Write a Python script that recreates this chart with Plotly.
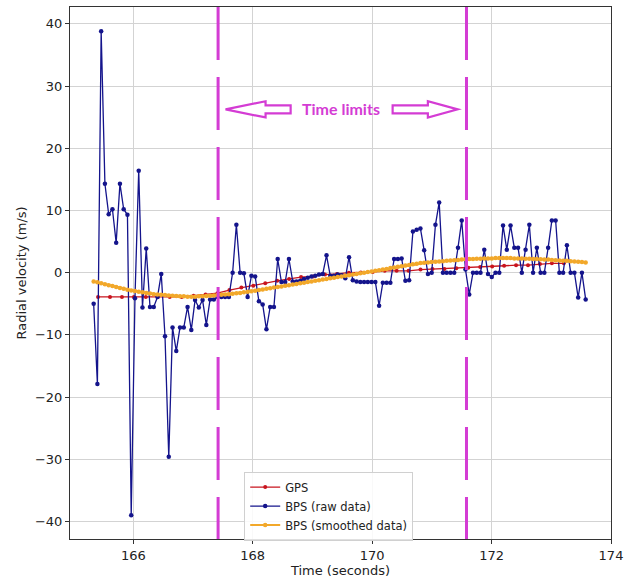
import numpy as np
import plotly.graph_objects as go

# ---------------- data ----------------
raw_t0 = 165.336
raw_dt = 0.0629
bps_raw = [
    -5.0, -17.9, 38.8, 14.3, 9.4, 10.2, 4.8, 14.3, 10.2, 9.3,
    -39.0, -4.1, 16.4, -5.6, 3.9, -5.5, -5.5, -3.9, -0.2, -10.2,
    -29.6, -8.8, -12.6, -8.8, -8.8, -5.5, -9.2, -4.4, -5.6, -4.4,
    -8.4, -4.3, -4.3, -3.9, -3.9, -3.9, -3.9, 0.0, 7.7, 0.0,
    -0.1, -3.9, -0.5, -0.6, -4.6, -5.1, -9.1, -5.5, -5.5, 2.2,
    -1.5, -1.5, 2.2, -1.4, -1.4, -1.3, -1.0, -0.8, -0.6, -0.5,
    -0.3, -0.2, 2.8, -0.5, -0.5, -0.3, -0.4, -0.9, 2.5, -1.2,
    -1.4, -1.5, -1.5, -1.5, -1.5, -1.5, -5.3, -1.6, -1.6, -1.6,
    2.2, 2.2, 2.3, -1.3, -1.2, 6.6, 6.9, 7.1, 3.6, -0.2,
    0.0, 7.7, 11.3, 0.0, 0.0, 0.0, 0.0, 4.0, 8.4, 0.5,
    -3.5, 0.0, 0.0, 0.0, 3.7, -0.2, -0.7, 0.0, 0.0, 7.6,
    3.7, 7.6, 4.0, 4.0, 0.0, 3.7, 7.7, 0.0, 4.0, 0.0,
    0.0, 4.0, 8.4, 8.4, 0.0, 0.0, 4.4, 0.0, 0.0, -4.0,
    0.0, -4.3,
]
bps_smooth = [
    -1.4, -1.55, -1.7, -1.85, -2.0, -2.15, -2.3, -2.45, -2.6, -2.75,
    -2.85, -2.95, -3.05, -3.15, -3.25, -3.35, -3.45, -3.5, -3.55, -3.6,
    -3.65, -3.7, -3.75, -3.8, -3.8, -3.85, -3.85, -3.85, -3.8, -3.8,
    -3.75, -3.7, -3.65, -3.6, -3.55, -3.5, -3.45, -3.4, -3.3, -3.25,
    -3.15, -3.05, -3.0, -2.9, -2.8, -2.7, -2.6, -2.5, -2.4, -2.3,
    -2.2, -2.1, -2.0, -1.9, -1.8, -1.7, -1.6, -1.5, -1.4, -1.3,
    -1.2, -1.1, -1.0, -0.9, -0.8, -0.7, -0.6, -0.5, -0.4, -0.3,
    -0.2, -0.1, 0.0, 0.1, 0.2, 0.3, 0.4, 0.5, 0.6, 0.75,
    0.85, 0.95, 1.05, 1.15, 1.25, 1.35, 1.45, 1.55, 1.6, 1.65,
    1.7, 1.75, 1.8, 1.85, 1.9, 1.95, 2.0, 2.05, 2.1, 2.15,
    2.2, 2.2, 2.25, 2.25, 2.3, 2.3, 2.3, 2.35, 2.35, 2.35,
    2.35, 2.35, 2.3, 2.3, 2.3, 2.25, 2.25, 2.2, 2.2, 2.15,
    2.1, 2.1, 2.05, 2.0, 1.95, 1.9, 1.9, 1.85, 1.8, 1.75,
    1.7, 1.65,
]
gps_t0 = 165.41
gps_dt = 0.2
gps = [
    -3.9, -3.9, -3.9, -3.9, -3.9, -3.9, -3.9, -3.9, -3.7, -3.5,
    -3.3, -2.8, -2.4, -2.1, -1.7, -1.3, -1.0, -0.7, -0.6, -0.3,
    -0.2, 0.0, 0.05, 0.1, 0.3, 0.3, 0.3, 0.5, 0.6, 0.6,
    0.7, 0.8, 0.9, 1.0, 1.1, 1.2, 1.2, 1.4, 1.5, 1.5,
]
time_limits = [167.42, 171.58]
x_ticks = [166, 168, 170, 172, 174]
y_ticks = [-40, -30, -20, -10, 0, 10, 20, 30, 40]

t_raw = raw_t0 + raw_dt * np.arange(len(bps_raw))
t_gps = gps_t0 + gps_dt * np.arange(len(gps))

RED = "#c8141e"
BLUE = "#14148c"
ORANGE = "#f2a82a"
MAGENTA = "#d43cd4"

fig = go.Figure()
fig.add_trace(go.Scatter(x=t_gps, y=gps, mode="lines+markers", name="GPS",
                         line=dict(color=RED, width=1.3),
                         marker=dict(color=RED, size=4)))
fig.add_trace(go.Scatter(x=t_raw, y=bps_raw, mode="lines+markers", name="BPS (raw data)",
                         line=dict(color=BLUE, width=1.3),
                         marker=dict(color=BLUE, size=4.5)))
fig.add_trace(go.Scatter(x=t_raw, y=bps_smooth, mode="lines+markers", name="BPS (smoothed data)",
                         line=dict(color=ORANGE, width=2),
                         marker=dict(color=ORANGE, size=4.5)))

shapes = []
for tl in time_limits:
    shapes.append(dict(type="line", xref="x", yref="paper", x0=tl, x1=tl, y0=1, y1=0,
                       line=dict(color=MAGENTA, width=3, dash="53px,17px")))

# hollow block arrows pointing to the time limits
lo, hi = time_limits
ay = 26.25          # arrow centre height (data units)
hh, sh = 1.3, 0.63  # half-height of head and of shaft
head_len, shaft_len = 0.67, 0.42
tipL = lo + 0.125
tipR = hi - 0.147
pathL = (f"M {tipL},{ay} L {tipL+head_len},{ay+hh} L {tipL+head_len},{ay+sh} "
         f"L {tipL+head_len+shaft_len},{ay+sh} L {tipL+head_len+shaft_len},{ay-sh} "
         f"L {tipL+head_len},{ay-sh} L {tipL+head_len},{ay-hh} Z")
hbR = tipR - 0.5
pathR = (f"M {tipR},{ay} L {hbR},{ay+hh} L {hbR},{ay+sh} "
         f"L {hbR-0.59},{ay+sh} L {hbR-0.59},{ay-sh} "
         f"L {hbR},{ay-sh} L {hbR},{ay-hh} Z")
for p in (pathL, pathR):
    shapes.append(dict(type="path", xref="x", yref="y", path=p,
                       line=dict(color=MAGENTA, width=2.2), fillcolor="white"))

AX_FONT = dict(family="DejaVu Sans", size=13, color="#222")

fig.update_layout(
    width=638, height=582,
    margin=dict(l=70, r=27, t=6, b=34),
    paper_bgcolor="white", plot_bgcolor="white",
    font=AX_FONT,
    shapes=shapes,
    showlegend=True,
    legend=dict(x=0.322, y=-0.003, xanchor="left", yanchor="bottom",
                bgcolor="rgba(255,255,255,0.85)", bordercolor="#d0d0d0", borderwidth=1,
                font=dict(family="DejaVu Sans", size=11.5, color="#222"),
                tracegroupgap=0, itemwidth=30),
    annotations=[dict(x=(lo + hi) / 2 - 0.02, y=ay + 0.2, xref="x", yref="y",
                      text="<b>Time limits</b>", showarrow=False,
                      font=dict(family="Lato", size=16, color=MAGENTA))],
)
fig.update_xaxes(range=[164.94, 174.0], tickvals=x_ticks, showgrid=True, gridcolor="#d3d3d3",
                 gridwidth=1, showline=True, linecolor="#333", linewidth=1, mirror=True,
                 ticks="outside", ticklen=4, tickcolor="#333", zeroline=False,
                 tickfont=AX_FONT,
                 title=dict(text="Time (seconds)", standoff=4, font=AX_FONT))
fig.update_yaxes(range=[-42.8, 42.7], tickvals=y_ticks, showgrid=True, gridcolor="#d3d3d3",
                 gridwidth=1, showline=True, linecolor="#333", linewidth=1, mirror=True,
                 ticks="outside", ticklen=4, tickcolor="#333", zeroline=False,
                 tickfont=AX_FONT,
                 title=dict(text="Radial velocity (m/s)", standoff=5, font=AX_FONT))

fig.write_html("out.html")
